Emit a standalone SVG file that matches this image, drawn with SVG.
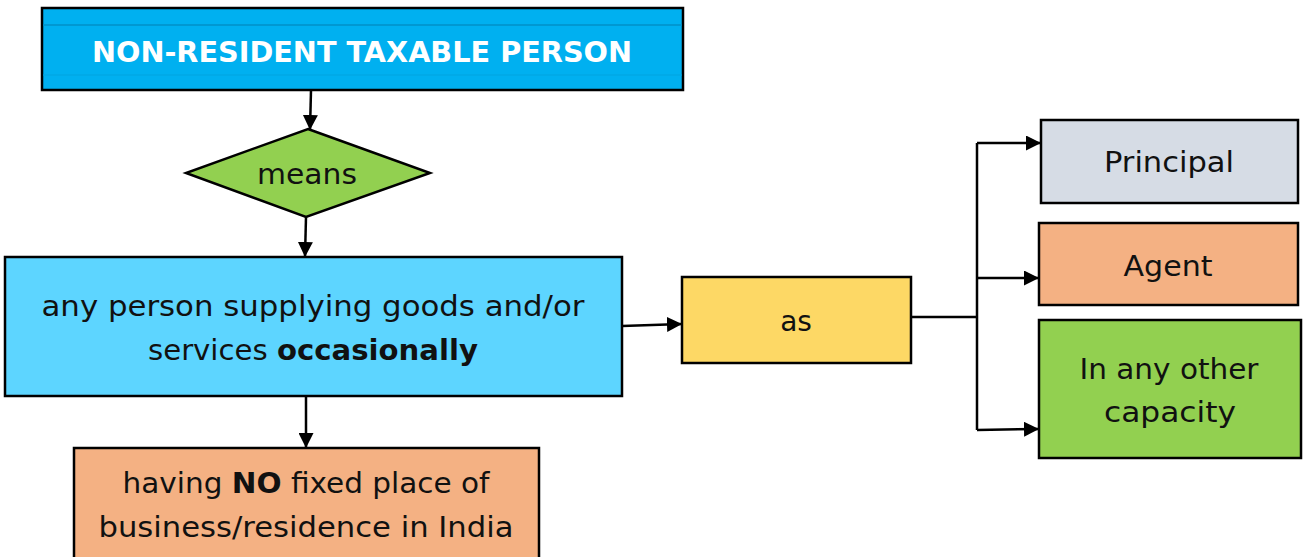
<svg xmlns="http://www.w3.org/2000/svg" width="1306" height="557" viewBox="0 0 1306 557">
<defs>
<style>
.box{stroke:#000;stroke-width:2.5}
.t{font-family:"DejaVu Sans","Liberation Sans",sans-serif;font-size:28px;fill:#111;text-anchor:middle}
.b{font-weight:bold}
.title{font-family:"DejaVu Sans","Liberation Sans",sans-serif;font-size:29px;font-weight:bold;fill:#fff;text-anchor:middle}
.c{fill:none;stroke:#000;stroke-width:2.5}
</style>
<marker id="ah" viewBox="0 0 10 10" refX="10" refY="5" markerWidth="6" markerHeight="6" orient="auto" markerUnits="strokeWidth">
<path d="M0,0 L10,5 L0,10 Z" fill="#000"/>
</marker>
</defs>
<rect width="1306" height="557" fill="#fff"/>
<g id="connectors">
<path class="c" d="M311,90 L310,130" marker-end="url(#ah)"/>
<path class="c" d="M306,217 L305,257" marker-end="url(#ah)"/>
<path class="c" d="M306,396 L306,448" marker-end="url(#ah)"/>
<path class="c" d="M622,326 L682,324" marker-end="url(#ah)"/>
<path class="c" d="M909,317 L977,317"/>
<path class="c" d="M977,143 L977,430"/>
<path class="c" d="M977,143 L1041,143" marker-end="url(#ah)"/>
<path class="c" d="M977,278 L1039,278" marker-end="url(#ah)"/>
<path class="c" d="M977,430 L1039,429" marker-end="url(#ah)"/>
</g>
<g id="title">
<rect class="box" x="42" y="8" width="641" height="82" fill="#00B0F0"/>
<line x1="43" y1="25" x2="682" y2="25" stroke="#0090C8" stroke-width="1.5"/>
<line x1="43" y1="75" x2="682" y2="75" stroke="#00A4E0" stroke-width="1"/>
<text class="title" x="362" y="62" textLength="540" lengthAdjust="spacingAndGlyphs">NON-RESIDENT TAXABLE PERSON</text>
</g>
<g id="means">
<polygon class="box" points="308,129 430,173 306,217 186,173" fill="#92D050"/>
<text class="t" x="307" y="184" textLength="100" lengthAdjust="spacingAndGlyphs">means</text>
</g>
<g id="person">
<rect class="box" x="5" y="257" width="617" height="139" fill="#5DD5FF"/>
<text class="t" x="313" y="316" textLength="543" lengthAdjust="spacingAndGlyphs">any person supplying goods and/or</text>
<text class="t" x="313" y="360" textLength="330" lengthAdjust="spacingAndGlyphs">services <tspan class="b">occasionally</tspan></text>
</g>
<g id="noplace">
<rect class="box" x="74" y="448" width="465" height="115" fill="#F4B183"/>
<text class="t" x="306" y="493" textLength="367" lengthAdjust="spacingAndGlyphs">having <tspan class="b">NO</tspan> fixed place of</text>
<text class="t" x="306" y="537" textLength="415" lengthAdjust="spacingAndGlyphs">business/residence in India</text>
</g>
<g id="as">
<rect class="box" x="682" y="277" width="229" height="86" fill="#FDD865"/>
<text class="t" x="796" y="331">as</text>
</g>
<g id="principal">
<rect class="box" x="1041" y="120" width="257" height="83" fill="#D6DCE5"/>
<text class="t" x="1169" y="172" textLength="130" lengthAdjust="spacingAndGlyphs">Principal</text>
</g>
<g id="agent">
<rect class="box" x="1039" y="223" width="259" height="82" fill="#F4B183"/>
<text class="t" x="1168" y="276" textLength="89" lengthAdjust="spacingAndGlyphs">Agent</text>
</g>
<g id="other">
<rect class="box" x="1039" y="320" width="262" height="138" fill="#92D050"/>
<text class="t" x="1169" y="379" textLength="179" lengthAdjust="spacingAndGlyphs">In any other</text>
<text class="t" x="1170" y="422" textLength="132" lengthAdjust="spacingAndGlyphs">capacity</text>
</g>
</svg>
